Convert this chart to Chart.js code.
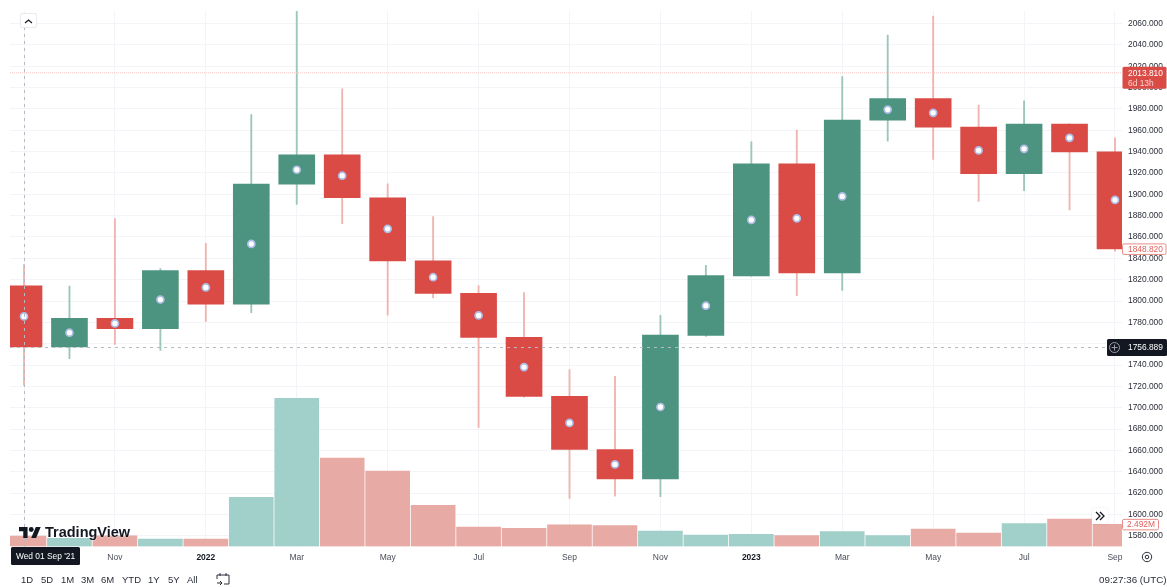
<!DOCTYPE html>
<html>
<head>
    <title>TradingView monthly chart</title>
    <script src="https://cdn.jsdelivr.net/npm/chart.js"></script>
    <style>
        body { margin: 0; background: #fff; font-family: "Liberation Sans", Arial, sans-serif; color: #131722; }
        #wrap { position: relative; width: 1167px; height: 587px; overflow: hidden; filter: blur(0.3px); }
        #chart { display: block; }
        .range { position: absolute; top: 574px; font-size: 9.5px; line-height: 12px; color: #2a2e39; }
        .logo { position: absolute; left: 19px; top: 527px; }
        .logo-text { position: absolute; left: 45px; top: 523px; font-size: 14.5px; line-height: 18px; font-weight: bold; color: #131722; text-shadow: 0 0 2px #fff; }
        .clock { position: absolute; left: 1099px; top: 574px; font-size: 9.8px; line-height: 12px; color: #2a2e39; }
        .collapse { position: absolute; left: 20px; top: 13px; width: 15px; height: 13px; background: #fff; border: 1px solid #e8eaef; border-radius: 2px; }
        .forward { position: absolute; left: 1092px; top: 508px; width: 16px; height: 16px; background: #fff; border-radius: 2px; box-shadow: 0 0 2px rgba(0,0,0,.12); }
    </style>
</head>
<body>
    <div id="wrap">
        <canvas id="chart" width="1167" height="587"></canvas>
        <div class="collapse"><svg width="15" height="13" viewBox="0 0 15 13"><path d="M4 8l3.5-3 3.5 3" fill="none" stroke="#131722" stroke-width="1.2"/></svg></div>
        <svg class="logo" width="22" height="11" viewBox="0 4 36 18"><path d="M14 22H7V11H0V4h14v18zM28 22h-8l7.5-18h8L28 22z" fill="#131722"/><circle cx="20" cy="8" r="4" fill="#131722"/></svg>
        <div class="logo-text">TradingView</div>
        <div class="forward"><svg width="16" height="16" viewBox="0 0 16 16"><path d="M4 4l4 4-4 4M8 4l4 4-4 4" fill="none" stroke="#131722" stroke-width="1.3"/></svg></div>
        <div id="ranges"></div>
        <svg style="position:absolute;left:216px;top:573px" width="14" height="13" viewBox="0 0 14 13"><path d="M1 6V2h12v9H8M4 0v3M10 0v3M1 10h5M4 8l2 2-2 2" fill="none" stroke="#2a2e39" stroke-width="1"/></svg>
        <svg style="position:absolute;left:1141px;top:551px" width="12" height="12" viewBox="0 0 12 12"><circle cx="6" cy="6" r="4.7" fill="none" stroke="#2a2e39" stroke-width="1"/><circle cx="6" cy="6" r="1.8" fill="none" stroke="#2a2e39" stroke-width="1"/></svg>
        <div class="clock">09:27:36 (UTC)</div>
    </div>

    <script>
        // 月份标签，索引 0 = Sep '21
        var monthLabels = ['Sep', 'Oct', 'Nov', 'Dec', '2022', 'Feb', 'Mar', 'Apr', 'May', 'Jun', 'Jul', 'Aug', 'Sep',
            'Oct', 'Nov', 'Dec', '2023', 'Feb', 'Mar', 'Apr', 'May', 'Jun', 'Jul', 'Aug', 'Sep'];

        var opens = [1814.3, 1756.9, 1783.7, 1774.0, 1828.6, 1797.0, 1909.6, 1937.0, 1896.8, 1837.6, 1807.3, 1765.9, 1710.7,
            1660.9, 1633.4, 1767.8, 1823.6, 1928.6, 1826.4, 1969.5, 1989.7, 1962.9, 1919.3, 1965.7, 1939.8];
        var highs = [1834.2, 1813.9, 1877.2, 1830.4, 1854.1, 1974.7, 2078.0, 1998.8, 1909.9, 1879.1, 1814.5, 1808.0, 1735.7,
            1729.4, 1786.5, 1833.5, 1949.2, 1960.1, 2010.3, 2049.2, 2067.0, 1983.5, 1987.5, 1966.0, 1952.9];
        var lows = [1721.0, 1746.0, 1759.4, 1753.8, 1780.9, 1789.0, 1890.6, 1872.5, 1786.8, 1802.8, 1681.5, 1710.0, 1615.1,
            1617.2, 1616.6, 1766.8, 1823.4, 1804.9, 1809.9, 1949.8, 1932.6, 1893.4, 1903.4, 1885.3, 1846.6];
        var closes = [1756.9, 1783.7, 1774.0, 1828.6, 1797.0, 1909.6, 1937.0, 1896.8, 1837.6, 1807.1, 1765.9, 1710.7, 1660.9,
            1633.4, 1768.1, 1823.9, 1928.6, 1826.4, 1969.5, 1989.7, 1962.9, 1919.3, 1965.7, 1939.8, 1848.82];
        var markers = [1785.6, 1770.3, 1779.0, 1801.4, 1812.7, 1853.5, 1923.0, 1917.4, 1867.6, 1822.3, 1786.5, 1738.1, 1685.8,
            1646.9, 1700.7, 1795.6, 1876.0, 1877.5, 1898.0, 1979.4, 1976.3, 1941.1, 1942.6, 1952.9, 1894.7];
        // 成交量，单位 M
        var volumes = [1.18, 0.92, 1.21, 0.84, 0.84, 5.53, 16.68, 9.94, 8.48, 4.63, 2.19, 2.04, 2.45,
            2.34, 1.74, 1.29, 1.37, 1.24, 1.68, 1.24, 1.97, 1.52, 2.58, 3.09, 2.492];

        var lastPrice = 2013.81;
        var lastClose = 1848.82;
        var crossPrice = 1756.889;
        var lastVolume = 2.492;

        var rangeLabels = [['1D', 21], ['5D', 41], ['1M', 61], ['3M', 81], ['6M', 101], ['YTD', 122], ['1Y', 148], ['5Y', 168], ['All', 187]];

        var GREEN = '#4d9480', RED = '#da4b46';
        var GREEN_WICK = '#9cc6ba', RED_WICK = '#efb4b0';
        var GREEN_VOL = '#a1cfc9', RED_VOL = '#e8aaa4';

        function isUp(i) { return closes[i] >= opens[i]; }

        function isYear(c) { return !!c.tick && /^20/.test(monthLabels[c.tick.value]); }

        // 底部周期按钮
        var rangeDiv = document.getElementById('ranges');
        rangeLabels.forEach(function(r) {
            var span = document.createElement('div');
            span.className = 'range';
            span.style.left = r[1] + 'px';
            span.textContent = r[0];
            rangeDiv.appendChild(span);
        });

        function tag(ctx, x, y, w, h, bg, border) {
            ctx.fillStyle = bg;
            ctx.beginPath();
            ctx.roundRect(x, y, w, h, 1.5);
            ctx.fill();
            if (border) {
                ctx.strokeStyle = border;
                ctx.lineWidth = 1;
                ctx.stroke();
            }
        }

        // 十字线和价格标签
        var overlay = {
            id: 'overlay',
            afterDraw: function(chart) {
                var ctx = chart.ctx;
                var y = chart.scales.y;
                var x = chart.scales.x;
                var area = chart.chartArea;
                var yLast = y.getPixelForValue(lastPrice);
                var yClose = y.getPixelForValue(lastClose);
                var yCross = y.getPixelForValue(crossPrice);
                var yVol = chart.scales.vol.getPixelForValue(lastVolume);
                var xCross = x.getPixelForValue(0);

                ctx.save();
                ctx.lineWidth = 1;
                ctx.setLineDash([1, 1]);
                ctx.strokeStyle = '#f7c6c6';
                ctx.beginPath();
                ctx.moveTo(area.left, yLast);
                ctx.lineTo(area.right, yLast);
                ctx.stroke();

                ctx.setLineDash([3, 4]);
                ctx.strokeStyle = '#b6bac2';
                ctx.beginPath();
                ctx.moveTo(area.left, Math.round(yCross) + 0.5);
                ctx.lineTo(1107, Math.round(yCross) + 0.5);
                ctx.moveTo(xCross + 0.5, 27);
                ctx.lineTo(xCross + 0.5, area.bottom);
                ctx.stroke();
                ctx.setLineDash([]);

                ctx.textBaseline = 'middle';
                ctx.textAlign = 'left';

                // 当前价
                tag(ctx, 1122.5, yLast - 6, 44, 22, '#da4b46');
                ctx.font = '8.4px "Liberation Sans"';
                ctx.fillStyle = '#fff';
                ctx.fillText('2013.810', 1128, yLast + 0.5);
                ctx.fillStyle = '#f8d4d2';
                ctx.fillText('6d 13h', 1128, yLast + 10.5);

                // 收盘价
                tag(ctx, 1122.5, yClose - 5, 43.5, 10.5, '#fff', '#e98b87');
                ctx.fillStyle = '#e0605b';
                ctx.fillText('1848.820', 1128, yClose + 0.5);

                // 成交量
                tag(ctx, 1122.5, yVol - 5, 36, 10.5, '#fff', '#e98b87');
                ctx.fillStyle = '#e0605b';
                ctx.fillText('2.492M', 1127, yVol + 0.5);

                // 十字线价格
                tag(ctx, 1107, yCross - 8, 60, 17, '#131722');
                ctx.strokeStyle = '#9a9da5';
                ctx.beginPath();
                ctx.arc(1114.5, yCross + 0.5, 5, 0, Math.PI * 2);
                ctx.moveTo(1111.5, yCross + 0.5);
                ctx.lineTo(1117.5, yCross + 0.5);
                ctx.moveTo(1114.5, yCross - 2.5);
                ctx.lineTo(1114.5, yCross + 3.5);
                ctx.stroke();
                ctx.fillStyle = '#fff';
                ctx.fillText('1756.889', 1128, yCross + 0.5);

                // 日期标签
                tag(ctx, 11, 547, 69, 18, '#131722');
                ctx.textAlign = 'center';
                ctx.fillStyle = '#fff';
                ctx.fillText("Wed 01 Sep '21", 45.5, 556.5);
                ctx.restore();
            }
        };

        function toBars(lo, hi) {
            return monthLabels.map(function(_, i) {
                return { x: i, y: [Math.min(lo[i], hi[i]), Math.max(lo[i], hi[i])] };
            });
        }

        var ctx = document.getElementById('chart').getContext('2d');
        var chart = new Chart(ctx, {
            type: 'bar',
            plugins: [overlay],
            data: {
                datasets: [
                    {
                        type: 'line',
                        showLine: false,
                        data: markers.map(function(v, i) { return { x: i, y: v }; }),
                        pointRadius: 3.5,
                        pointBackgroundColor: '#fff',
                        pointBorderColor: '#aebde6',
                        pointBorderWidth: 1.7,
                        yAxisID: 'y',
                        order: 1
                    },
                    {
                        data: toBars(opens, closes),
                        backgroundColor: monthLabels.map(function(_, i) { return isUp(i) ? GREEN : RED; }),
                        barThickness: 36,
                        grouped: false,
                        yAxisID: 'y',
                        order: 2
                    },
                    {
                        data: toBars(lows, highs),
                        backgroundColor: monthLabels.map(function(_, i) { return isUp(i) ? GREEN_WICK : RED_WICK; }),
                        barThickness: 1.2,
                        grouped: false,
                        yAxisID: 'y',
                        order: 3
                    },
                    {
                        data: volumes.map(function(v, i) { return { x: i, y: v }; }),
                        backgroundColor: monthLabels.map(function(_, i) { return isUp(i) ? GREEN_VOL : RED_VOL; }),
                        barThickness: 44,
                        grouped: false,
                        yAxisID: 'vol',
                        order: 4
                    }
                ]
            },
            options: {
                responsive: false,
                animation: false,
                layout: { padding: { left: 10, top: 10, right: 0, bottom: 0 } },
                plugins: { legend: { display: false }, tooltip: { enabled: false } },
                scales: {
                    x: {
                        type: 'linear',
                        offset: false,
                        min: -0.308,
                        max: 24.154,
                        afterFit: function(scale) { scale.height = 40.5; },
                        border: { display: false },
                        grid: { color: '#f3f4f7', drawTicks: false, offset: false },
                        ticks: {
                            stepSize: 2,
                            includeBounds: false,
                            autoSkip: false,
                            maxRotation: 0,
                            padding: 6,
                            color: function(c) { return isYear(c) ? '#131722' : '#4a4e58'; },
                            font: function(c) {
                                return { family: '"Liberation Sans"', size: 8.5, weight: isYear(c) ? 'bold' : 'normal' };
                            },
                            callback: function(v) { return monthLabels[v]; }
                        }
                    },
                    y: {
                        position: 'right',
                        min: 1570,
                        max: 2071.7,
                        afterFit: function(scale) { scale.width = 45; },
                        border: { display: false },
                        grid: { color: '#f3f4f7', drawTicks: false },
                        ticks: {
                            stepSize: 20,
                            includeBounds: false,
                            autoSkip: false,
                            padding: 6,
                            color: '#2a2e39',
                            font: { family: '"Liberation Sans"', size: 8.4 },
                            callback: function(v) { return v.toFixed(3); }
                        }
                    },
                    vol: {
                        display: false,
                        position: 'right',
                        min: 0,
                        max: 60.25
                    }
                }
            }
        });
    </script>
</body>
</html>
